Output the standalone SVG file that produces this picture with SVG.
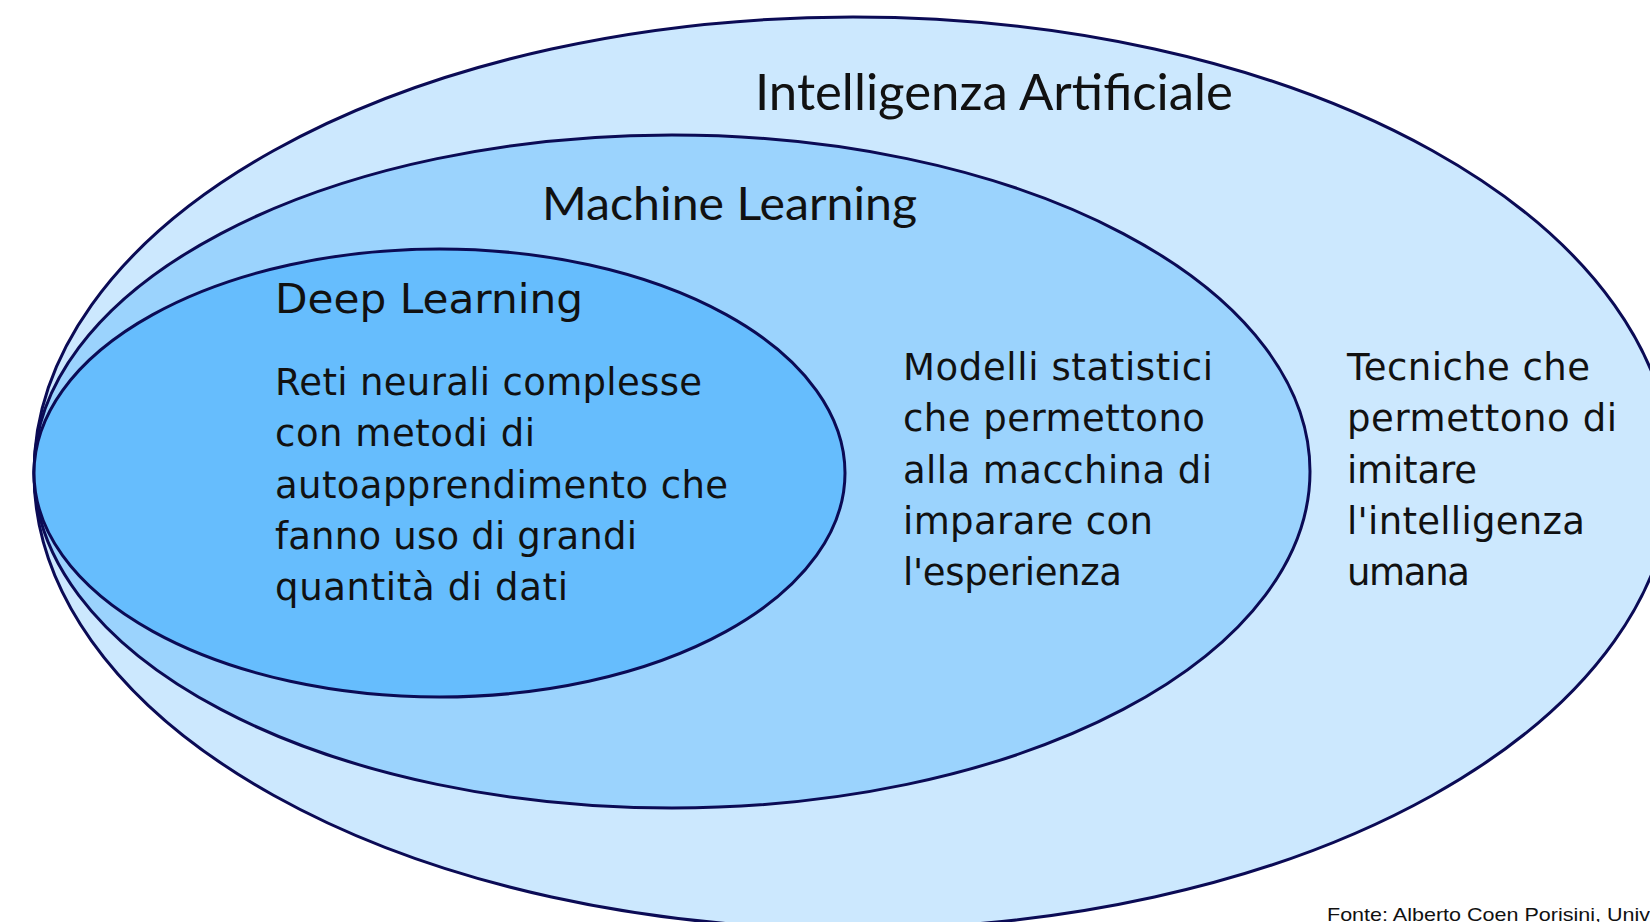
<svg xmlns="http://www.w3.org/2000/svg" width="1650" height="922" viewBox="0 0 1650 922">
<style>
.ring{stroke:#0b0b55;stroke-width:3}
.body{font-family:"DejaVu Sans",Verdana,sans-serif;font-size:37px;fill:#111}
.dlt{font-family:"DejaVu Sans",Verdana,sans-serif;font-size:41px;fill:#111}
.title{font-family:Lato,"Open Sans",sans-serif;fill:#111}
.src{font-family:"Liberation Sans",Arial,sans-serif;font-size:19px;fill:#111}
</style>
<rect width="1650" height="922" fill="#ffffff"/>
<g id="ai">
<ellipse class="ring" cx="853" cy="473" rx="819" ry="456" fill="#cce8fe"/>
<text class="title" x="755" y="110" style="font-size:50px" textLength="478" lengthAdjust="spacingAndGlyphs">Intelligenza Artificiale</text>
<text class="body"><tspan x="1347" y="380" textLength="243" lengthAdjust="spacing">Tecniche che</tspan><tspan x="1347" y="431" textLength="270" lengthAdjust="spacing">permettono di</tspan><tspan x="1347" y="482.5" textLength="130" lengthAdjust="spacing">imitare</tspan><tspan x="1347" y="534" textLength="238" lengthAdjust="spacing">l'intelligenza</tspan><tspan x="1347" y="585" textLength="123" lengthAdjust="spacing">umana</tspan></text>
</g>
<g id="ml">
<ellipse class="ring" cx="672" cy="471.5" rx="638" ry="336.5" fill="#9bd3fd"/>
<text class="title" x="542" y="220" style="font-size:46px" textLength="375" lengthAdjust="spacingAndGlyphs">Machine Learning</text>
<text class="body"><tspan x="903" y="380" textLength="310" lengthAdjust="spacing">Modelli statistici</tspan><tspan x="903" y="431" textLength="302" lengthAdjust="spacing">che permettono</tspan><tspan x="903" y="482.5" textLength="309" lengthAdjust="spacing">alla macchina di</tspan><tspan x="903" y="534" textLength="250" lengthAdjust="spacing">imparare con</tspan><tspan x="903" y="585" textLength="219" lengthAdjust="spacing">l'esperienza</tspan></text>
</g>
<g id="dl">
<ellipse class="ring" cx="439.5" cy="473" rx="405.5" ry="224" fill="#66bdfd"/>
<text class="dlt" x="275" y="313" textLength="308" lengthAdjust="spacingAndGlyphs">Deep Learning</text>
<text class="body"><tspan x="275" y="395" textLength="427" lengthAdjust="spacing">Reti neurali complesse</tspan><tspan x="275" y="446" textLength="260" lengthAdjust="spacing">con metodi di</tspan><tspan x="275" y="497.5" textLength="453" lengthAdjust="spacing">autoapprendimento che</tspan><tspan x="275" y="548.5" textLength="362" lengthAdjust="spacing">fanno uso di grandi</tspan><tspan x="275" y="600" textLength="293" lengthAdjust="spacing">quantità di dati</tspan></text>
</g>
<g id="connectors"></g>
<text class="src" x="1327" y="921" textLength="323" lengthAdjust="spacingAndGlyphs">Fonte: Alberto Coen Porisini, Univ</text>
</svg>
